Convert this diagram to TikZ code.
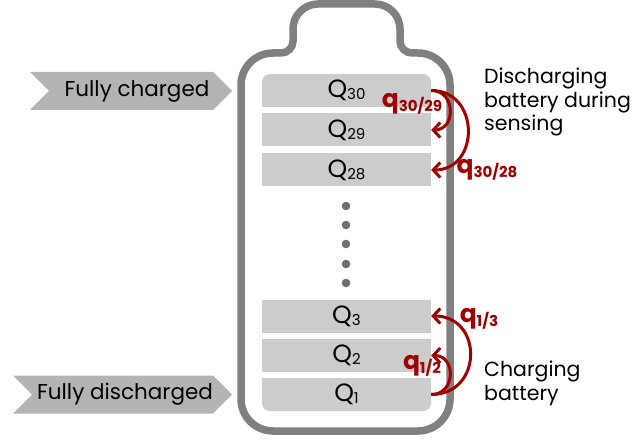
\documentclass[tikz,border=0pt]{standalone}
\usepackage{fontspec}
\setmainfont{Poppins}
\usepackage{tikz}
\usetikzlibrary{calc, arrows.meta, shapes.symbols}
\usepackage{tkz-euclide}
\definecolor{battgray}{RGB}{128,128,128}
\definecolor{cellgray}{RGB}{204,204,204}
\definecolor{taggray}{RGB}{180,180,180}
\definecolor{dotgray}{RGB}{110,110,110}
\definecolor{qred}{RGB}{160,0,0}
\newcommand{\lowsub}[1]{\raisebox{-2pt}{\fontsize{15}{15}\selectfont #1}}
\newcommand{\qsub}[1]{\raisebox{-4pt}{\fontsize{15}{15}\selectfont #1}}

\begin{document}
\begin{tikzpicture}[x=1pt, y=1pt,
    cell/.style={fill=cellgray, minimum width=169pt, minimum height=33pt,
      inner sep=0pt, font=\fontsize{25}{25}\selectfont},
    tag/.style={signal, signal from=west, signal to=east, signal pointer angle=90,
      fill=taggray, inner sep=0pt, minimum height=38pt, font=\fontsize{21.5}{21.5}\selectfont},
    rate/.style={qred, line width=3pt, -{Straight Barb[length=7pt, width=15pt]}},
    ratelabel/.style={text=qred, inner sep=0pt, font=\bfseries\fontsize{25}{25}\selectfont},
    note/.style={anchor=north west, align=left, inner sep=0pt,
      font=\fontsize{20.5}{23.5}\selectfont}]
  \useasboundingbox (0,0) rectangle (639,442);
  \tkzDefPoints{346.5/351.5/c30, 346.5/312/c29, 346.5/272/c28,
    346.5/126/c3, 346.5/86.5/c2, 346.5/47.5/c1}
  % battery outline
  \draw[battgray, line width=7.5pt] (273,11) -- (418,11)
    arc[start angle=-90, end angle=0, radius=32] -- (450,357)
    arc[start angle=0, end angle=90, radius=32] -- (412,389)
    arc[start angle=-90, end angle=-180, radius=12] -- (400,413)
    arc[start angle=0, end angle=90, radius=25] -- (318,438)
    arc[start angle=90, end angle=180, radius=25] -- (293,401)
    arc[start angle=0, end angle=-90, radius=12] -- (273,389)
    arc[start angle=90, end angle=180, radius=32] -- (241,43)
    arc[start angle=180, end angle=270, radius=32] -- cycle;
  % cells
  \fill[cellgray] ($(c30)+(-84.5,-16.5)$) rectangle ($(c30)+(84.5,0)$);
  \fill[cellgray] ($(c1)+(-84.5,0)$) rectangle ($(c1)+(84.5,16.5)$);
  \node[cell, rounded corners=8pt] (q30) at (c30) {Q\lowsub{30}};
  \node[cell] (q29) at (c29) {Q\lowsub{29}};
  \node[cell] (q28) at (c28) {Q\lowsub{28}};
  \node[cell] (q3) at (c3) {Q\lowsub{3}};
  \node[cell] (q2) at (c2) {Q\lowsub{2}};
  \node[cell, rounded corners=8pt] (q1) at (c1) {Q\lowsub{1}};
  \foreach \y in {236,217,198,178,159}
    \fill[dotgray] (346,\y) circle (4.3);
  % tags
  \node[tag, minimum width=202pt] (full) at (131,351) {\hspace*{12pt}Fully charged};
  \node[tag, minimum width=219pt] (empty) at (122.5,47.5) {\hspace*{5pt}Fully discharged};
  % transitions
  \draw[rate] (q30.east) .. controls +(25,0) and +(25,0) .. (q29.east);
  \draw[rate] (q30.east) .. controls +(49,0) and +(49,0) .. (q28.east);
  \draw[rate] (q1.east) .. controls +(25,0) and +(25,0) .. (q2.east);
  \draw[rate] (q1.east) .. controls +(52,0) and +(52,0) .. (q3.east);
  \node[ratelabel] (r3029) at (412,338) {q\qsub{30/29}};
  \node[ratelabel] (r3028) at (487,272) {q\qsub{30/28}};
  \node[ratelabel] (r13) at (479,123) {q\qsub{1/3}};
  \node[ratelabel] (r12) at (422,76) {q\qsub{1/2}};
  \node[note] (dis) at (484,374) {Discharging\\battery during\\sensing};
  \node[note] (chg) at (484,81) {Charging\\battery};
\end{tikzpicture}
\end{document}
